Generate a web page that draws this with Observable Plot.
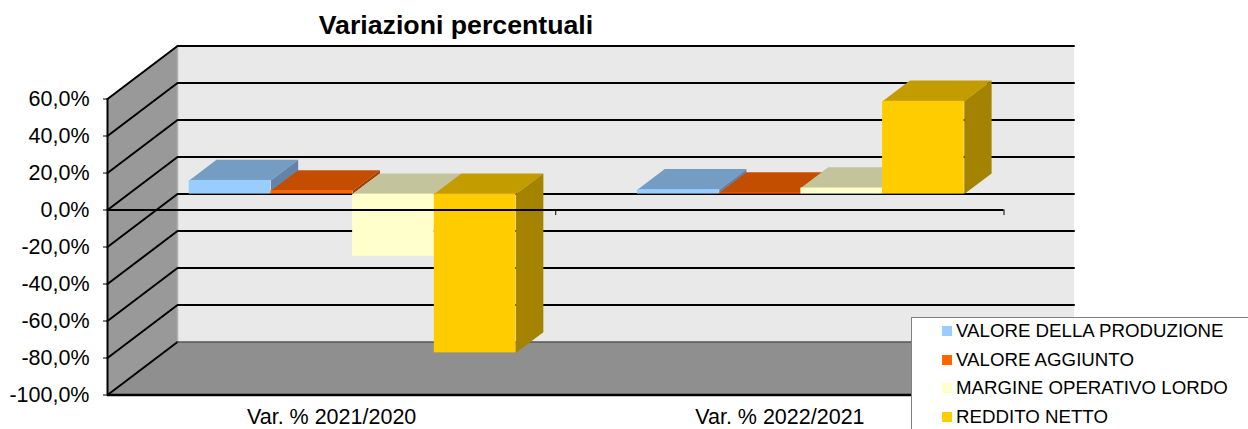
<!DOCTYPE html>
<html>
<head>
<meta charset="utf-8">
<script src="https://cdn.jsdelivr.net/npm/d3@7"></script>
<script src="https://cdn.jsdelivr.net/npm/@observablehq/plot@0.6"></script>
<style>
html,body{margin:0;padding:0;background:#fff;width:1248px;height:429px;overflow:hidden;font-family:"Liberation Sans",Arial,sans-serif;color:#000}
#wrap{position:relative;width:1248px;height:429px;overflow:hidden}
#title{position:absolute;left:256px;width:400px;top:10px;text-align:center;font-weight:bold;font-size:26.7px;line-height:30px}
#legend{position:absolute;left:911px;top:317px;width:340px;height:120px;background:#fff;border:1.5px solid #808080;box-sizing:border-box}
#legend .row{position:absolute;left:0;height:20px;font-size:18.7px;line-height:20px;white-space:nowrap}
#legend .sw{position:absolute;left:30px;top:5px;width:10px;height:10px}
#legend .tx{position:absolute;left:44px;top:0}
svg{position:absolute;left:0;top:0}
</style>
</head>
<body>
<div id="wrap">
<div id="title">Variazioni percentuali</div>
</div>
<script>
const categories = ["Var. % 2021/2020", "Var. % 2022/2021"];
const seriesNames = ["VALORE DELLA PRODUZIONE", "VALORE AGGIUNTO", "MARGINE OPERATIVO LORDO", "REDDITO NETTO"];
const valoreProduzione = [7.4, 2.4];
const valoreAggiunto = [1.8, 0.6];
const margineOperativo = [-33.6, 3.3];
const redditoNetto = [-85.8, 50.2];
const seriesValues = [valoreProduzione, valoreAggiunto, margineOperativo, redditoNetto];
const frontColors = ["#99ccff", "#ff6600", "#ffffcc", "#ffcc00"];
const topColors = ["#759cc3", "#c34e00", "#c3c39c", "#c39c00"];
const sideColors = ["#6583a8", "#a34100", "#a3a383", "#a38300"];
const yTicks = [60, 40, 20, 0, -20, -40, -60, -80, -100];

// oblique projection of the chart's depth into data units
const depthX = 70 / 448.25;
const depthY = 53 / 1.8525;
const barFront = 0.3, barBack = 0.69, barWidth = 0.1823;
const yMin = -100, yMax = 60, xMax = categories.length;
const px = (x, d) => x + d * depthX;
const py = (v, d) => v + d * depthY;
const poly = pts => pts.map(([x, v, d]) => ({x: px(x, d), y: py(v, d)}));
const face = (pts, fill) => Plot.line(poly(pts), {x: "x", y: "y", fill, stroke: "none"});
const edge = (pts, stroke = "#000", strokeWidth = 2) => Plot.line(poly(pts), {x: "x", y: "y", stroke, strokeWidth});

const marks = [
  face([[0, yMin, 1], [xMax, yMin, 1], [xMax, yMax, 1], [0, yMax, 1]], "#e9e9e9"),
  face([[0, yMax, 0], [0, yMax, 1], [0, yMin, 1], [0, yMin, 0]], "#999999"),
  face([[0, yMin, 0], [xMax, yMin, 0], [xMax, yMin, 1], [0, yMin, 1]], "#8f8f8f"),
  edge([[0, yMin, 1], [0, yMax, 1]], "#b0b0b0", 1.5)
];
for (const t of yTicks) {
  if (t === yMin) {
    marks.push(edge([[0, t, 0], [0, t, 1]]), edge([[0, t, 1], [xMax, t, 1]], "#555", 1.5));
  } else {
    marks.push(edge([[0, t, 0], [0, t, 1], [xMax, t, 1]]));
  }
}
categories.forEach((cat, i) => {
  seriesValues.forEach((vals, j) => {
    const v = vals[i];
    const x1 = i + 0.5 + (j - 2) * barWidth;
    const x2 = x1 + barWidth;
    const hi = Math.max(v, 0), lo = Math.min(v, 0);
    marks.push(
      face([[x1, hi, barFront], [x2, hi, barFront], [x2, hi, barBack], [x1, hi, barBack]], topColors[j]),
      face([[x2, lo, barFront], [x2, lo, barBack], [x2, hi, barBack], [x2, hi, barFront]], sideColors[j]),
      Plot.rect([{cat, series: seriesNames[j], v}], {
        x1: () => px(x1, barFront), x2: () => px(x2, barFront),
        y1: () => py(lo, barFront), y2: () => py(hi, barFront),
        fill: frontColors[j]
      })
    );
  });
});
marks.push(
  Plot.ruleX([0], {y1: yMin, y2: yMax, stroke: "#000", strokeWidth: 2}),
  Plot.ruleY([yMin], {x1: 0, x2: xMax, stroke: "#000", strokeWidth: 2.5}),
  Plot.ruleY([0], {x1: 0, x2: xMax, stroke: "#000", strokeWidth: 2}),
  Plot.ruleX(d3.range(1, xMax + 1), {y1: 0, y2: -3, stroke: "#000", strokeWidth: 1}),
  Plot.axisY({ticks: yTicks, tickSize: 4, tickPadding: 14, tickFormat: d => d.toFixed(1).replace(".", ",") + "%", label: null}),
  Plot.axisX({ticks: categories.map((c, i) => i + 0.5), tickSize: 0, tickPadding: 14, tickFormat: d => categories[Math.floor(d)], label: null})
);

const chart = Plot.plot({
  width: 1248,
  height: 429,
  marginLeft: 107,
  marginRight: 244.5,
  marginTop: 98.5,
  marginBottom: 34.5,
  x: {type: "linear", domain: [0, xMax]},
  y: {type: "linear", domain: [yMin, yMax]},
  style: {fontFamily: '"Liberation Sans", Arial, sans-serif', fontSize: "21.5px", color: "#000", background: "transparent"},
  marks
});
const wrap = document.getElementById("wrap");
wrap.insertBefore(chart, wrap.firstChild);

const legend = document.createElement("div");
legend.id = "legend";
seriesNames.forEach((name, j) => {
  const row = document.createElement("div");
  row.className = "row";
  row.style.top = (3 + j * 28.67) + "px";
  const sw = document.createElement("span");
  sw.className = "sw";
  sw.style.background = frontColors[j];
  const tx = document.createElement("span");
  tx.className = "tx";
  tx.textContent = name;
  row.append(sw, tx);
  legend.append(row);
});
wrap.append(legend);
</script>
</body>
</html>
